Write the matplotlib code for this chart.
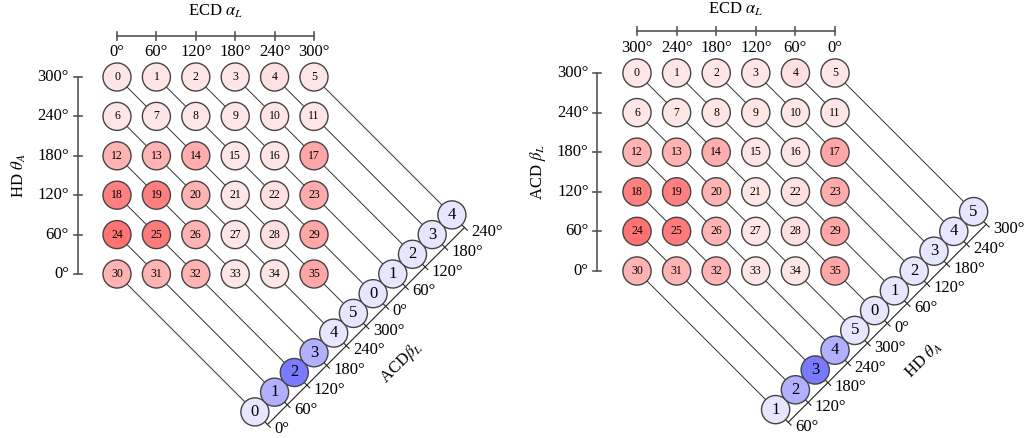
import matplotlib
matplotlib.use('Agg')
import matplotlib.pyplot as plt
from matplotlib.patches import Circle

plt.rcParams['font.family'] = ['Liberation Serif', 'DejaVu Serif']
plt.rcParams['mathtext.fontset'] = 'stix'

# angle grid shared by both axes
angles = [0, 60, 120, 180, 240, 300]

# shade of each red cell (0 = white, 1 = full red), numbered row by row from the top
red_shade = [0.10, 0.10, 0.10, 0.10, 0.12, 0.10,
             0.10, 0.10, 0.10, 0.10, 0.10, 0.10,
             0.30, 0.30, 0.32, 0.10, 0.10, 0.35,
             0.50, 0.50, 0.30, 0.10, 0.12, 0.33,
             0.55, 0.52, 0.30, 0.10, 0.12, 0.35,
             0.30, 0.30, 0.30, 0.10, 0.10, 0.35]

# shade of the blue circles along the diagonal, bottom-left to top-right
blue_shade = [0.10, 0.31, 0.52, 0.31, 0.10, 0.10, 0.10, 0.10, 0.10, 0.10, 0.10]

left_diag_labels = [0, 1, 2, 3, 4, 5, 0, 1, 2, 3, 4]
left_diag_ticks = [0, 60, 120, 180, 240, 300, 0, 60, 120, 180, 240]
right_diag_labels = [1, 2, 3, 4, 5, 0, 1, 2, 3, 4, 5]
right_diag_ticks = [60, 120, 180, 240, 300, 0, 60, 120, 180, 240, 300]

W, H = 1027, 438
R = 0.356
EDGE = '#444444'


def red(v):
    return (1.0, 1 - v, 1 - v)


def blue(v):
    return (1 - v, 1 - v, 1.0)


def panel(ax, ox, oy, s, x_ticks, y_ticks, y_label, diag_labels, diag_ticks, diag_label, title_y):
    ax.set_xlim(-ox / s, (W - ox) / s)
    ax.set_ylim((oy - H) / s, oy / s)
    ax.axis('off')

    n = len(x_ticks)
    # top axis
    ax.plot([0, n - 1], [6.05, 6.05], color='#555555', lw=1.2)
    for c, a in enumerate(x_ticks):
        ax.plot([c, c], [5.95, 6.15], color='#555555', lw=1.2)
        ax.text(c, 5.63, '%d°' % a, ha='center', va='center', fontsize=12)
    ax.text((n - 1) / 2, title_y, r'ECD $\alpha_L$', ha='center', va='center', fontsize=12)

    # left axis
    ax.plot([-1, -1], [0, n - 1], color='#555555', lw=1.2)
    for j, a in enumerate(y_ticks):
        ax.plot([-1.1, -0.9], [j, j], color='#555555', lw=1.2)
        ax.text(-1.22, j, '%d°' % a, ha='right', va='center', fontsize=12)
    ax.text(-2.5, (n - 1) / 2, y_label, ha='center', va='center', rotation=90, fontsize=12)

    # diagonal positions of the blue circles
    bx = [3.5 + 0.5 * k for k in range(len(diag_labels))]
    by = [-3.5 + 0.5 * k for k in range(len(diag_labels))]

    # one connecting line per diagonal, from its farthest red circle
    start = {}
    for i in range(len(red_shade)):
        r, c = divmod(i, n)
        j = n - 1 - r
        k = c + j
        if k not in start or c < start[k][0]:
            start[k] = (c, j)
    for k, (c, j) in start.items():
        ax.plot([c, bx[k]], [j, by[k]], color='#333333', lw=0.7, zorder=1)

    for i, v in enumerate(red_shade):
        r, c = divmod(i, n)
        j = n - 1 - r
        ax.add_patch(Circle((c, j), R, facecolor=red(v), edgecolor=EDGE, lw=1.0, zorder=3))
        ax.text(c, j, str(i), ha='center', va='center', fontsize=8.5, zorder=4)

    # blue circles
    for k, v in enumerate(blue_shade):
        ax.add_patch(Circle((bx[k], by[k]), R, facecolor=blue(v), edgecolor=EDGE, lw=1.0, zorder=3))
        ax.text(bx[k], by[k], str(diag_labels[k]), ha='center', va='center', fontsize=12, zorder=4)

    # diagonal axis
    d = 0.32
    tx = [x + d for x in bx]
    ty = [y - d for y in by]
    ax.plot([tx[0], tx[-1]], [ty[0], ty[-1]], color='#222222', lw=0.8)
    t = 0.07
    for k, a in enumerate(diag_ticks):
        ax.plot([tx[k] - t, tx[k] + t], [ty[k] + t, ty[k] - t], color='#222222', lw=0.8)
        ax.text(tx[k] + 0.17, ty[k] - 0.12, '%d°' % a, ha='left', va='center', fontsize=12)
    mid = len(diag_labels) // 2
    ax.text(tx[mid] + 0.9, ty[mid] - 0.92, diag_label, ha='center', va='center',
            rotation=45, fontsize=12)


fig = plt.figure(figsize=(W / 100, H / 100), dpi=100)

ax1 = fig.add_axes([0, 0, 1, 1])
panel(ax1, 117, 274, 39.4, angles, angles, r'HD $\theta_A$',
      left_diag_labels, left_diag_ticks, r'ACD$\beta_L$', 6.68)

ax2 = fig.add_axes([0, 0, 1, 1])
ax2.patch.set_alpha(0)
panel(ax2, 637, 271, 39.6, angles[::-1], angles, r'ACD $\beta_L$',
      right_diag_labels, right_diag_ticks, r'HD $\theta_A$', 6.6)

plt.savefig('out.png', dpi=100)
